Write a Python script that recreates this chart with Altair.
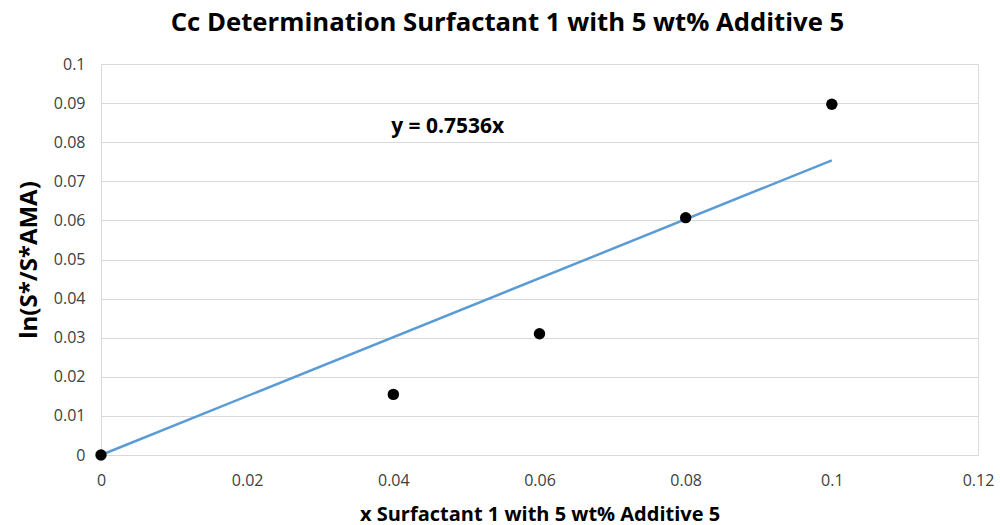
import altair as alt
import pandas as pd

x_vals = [0.0, 0.04, 0.06, 0.08, 0.10]
y_vals = [0.0, 0.0155, 0.031, 0.0607, 0.0897]
slope = 0.7536
fit_x = [0.0, 0.10]
eq_label = ["y = 0.7536x"]
eq_pos_x = [0.0397]
eq_pos_y = [0.0838]
x_ticks = [0, 0.02, 0.04, 0.06, 0.08, 0.1, 0.12]
y_ticks = [0, 0.01, 0.02, 0.03, 0.04, 0.05, 0.06, 0.07, 0.08, 0.09, 0.1]

pts = pd.DataFrame({"x": x_vals, "y": y_vals})
fit = pd.DataFrame({"x": fit_x, "y": [slope * v for v in fit_x]})
eq = pd.DataFrame({"x": eq_pos_x, "y": eq_pos_y, "t": eq_label})

FONT = "Open Sans"

xs = alt.Scale(domain=[0, 0.12], nice=False, zero=False)
ys = alt.Scale(domain=[0, 0.1], nice=False, zero=False)

xaxis = alt.Axis(
    title="x Surfactant 1 with 5 wt% Additive 5",
    values=x_ticks,
    labelExpr="format(datum.value, '~g')",
    labelOverlap=False, labelBound=False, labelFlush=False,
    grid=False, ticks=False, domain=True, domainColor="#d9d9d9",
    labelFont=FONT, labelFontSize=16, labelColor="#404040", labelPadding=17,
    titleFont=FONT, titleFontSize=20, titleFontWeight="bold", titleColor="#000000",
    titlePadding=16,
)
yaxis = alt.Axis(
    title="ln(S*/S*AMA)",
    values=y_ticks,
    labelExpr="format(datum.value, '~g')",
    labelOverlap=False, labelBound=False, labelFlush=False,
    grid=True, gridColor="#d9d9d9", gridWidth=1,
    ticks=False, domain=True, domainColor="#d9d9d9",
    labelFont=FONT, labelFontSize=16, labelColor="#404040", labelPadding=16,
    titleFont=FONT, titleFontSize=24, titleFontWeight="bold", titleColor="#000000",
    titlePadding=12,
)

line = alt.Chart(fit).mark_line(color="#5B9BD5", strokeWidth=2.5).encode(
    x=alt.X("x:Q", scale=xs, axis=xaxis),
    y=alt.Y("y:Q", scale=ys, axis=yaxis),
)
points = alt.Chart(pts).mark_point(filled=True, color="#000000", opacity=1, size=130).encode(
    x=alt.X("x:Q", scale=xs, axis=xaxis),
    y=alt.Y("y:Q", scale=ys, axis=yaxis),
)
label = alt.Chart(eq).mark_text(
    align="left", baseline="middle", font=FONT, fontSize=21, fontWeight="bold", color="#000000"
).encode(
    x=alt.X("x:Q", scale=xs, axis=xaxis),
    y=alt.Y("y:Q", scale=ys, axis=yaxis),
    text="t:N",
)

chart = alt.layer(line, points, label).properties(
    width=877,
    height=391,
    autosize=alt.AutoSizeParams(type="none"),
    padding={"left": 101, "top": 64, "right": 22, "bottom": 70},
    title=alt.TitleParams(
        "Cc Determination Surfactant 1 with 5 wt% Additive 5",
        font=FONT, fontSize=25.7, fontWeight="bold", color="#000000",
        anchor="middle", offset=19, dx=-32,
    ),
).configure_view(stroke=None).configure(background="white")

chart.save("out.html", embed_options={"renderer": "svg", "actions": False})
